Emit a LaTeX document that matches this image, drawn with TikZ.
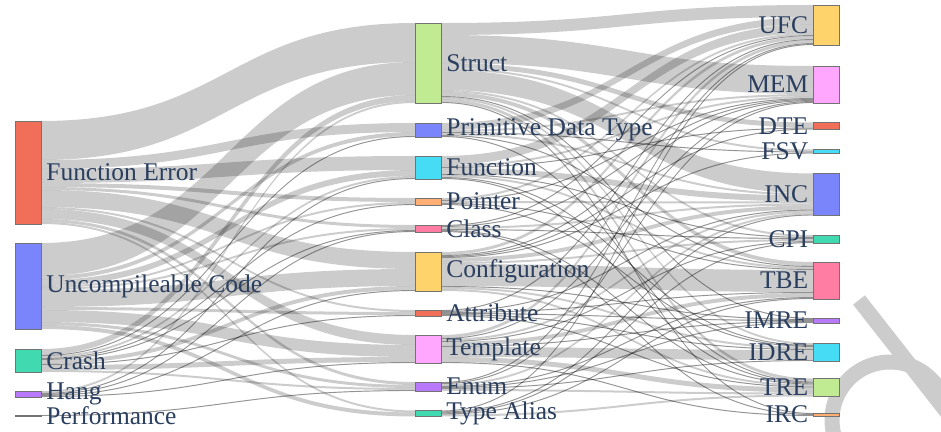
\documentclass[tikz,border=0pt]{standalone}
\usepackage{fontspec}
\setmainfont{Liberation Serif}
\usepackage{xcolor}
\usepackage{tikz}
\usetikzlibrary{positioning,calc,backgrounds}

\definecolor{cred}{HTML}{EF553B}
\definecolor{cblue}{HTML}{636EFA}
\definecolor{cgreen}{HTML}{00CC96}
\definecolor{cpurple}{HTML}{AB63FA}
\definecolor{corange}{HTML}{FFA15A}
\definecolor{ccyan}{HTML}{19D3F3}
\definecolor{cpink}{HTML}{FF6692}
\definecolor{clime}{HTML}{B6E880}
\definecolor{cmagenta}{HTML}{FF97FF}
\definecolor{cyellow}{HTML}{FECB52}
\definecolor{cbrown}{HTML}{8C564B}
\definecolor{lblc}{HTML}{2A3F5F}

\tikzset{
  sknode/.style={draw=black!55, line width=0.4pt, inner sep=0pt, outer sep=0pt,
                 minimum width=0.52cm, minimum height=#1*0.02cm},
  lbl/.style={font=\fontsize{14.5}{17}\selectfont, text=lblc, inner sep=0pt},
  link/.style={fill=black, fill opacity=0.2},
  hairlink/.style={draw=black, draw opacity=0.28, line width=0.5pt},
}

% one band of the sankey, stacked at both ends
\newcommand\flow[3]{%
  \edef\srcoff{\csname so@#1\endcsname}%
  \edef\tgtoff{\csname ti@#2\endcsname}%
  \path ($(#1.north east)+(0,\srcoff)$) coordinate (p1);
  \path ($(#2.north west)+(0,\tgtoff)$) coordinate (p2);
  \path ($(p1)+(0,#3)$) coordinate (q1);
  \path ($(p2)+(0,#3)$) coordinate (q2);
  \path ($(p1)!.5!(p2)$) coordinate (m);
  \fill[link] (p1) .. controls (m |- p1) and (m |- p2) .. (p2) -- (q2)
              .. controls (m |- q2) and (m |- q1) .. (q1) -- cycle;
  \ifnum#3<2
    \path ($(p1)!.5!(q1)$) coordinate (c1);
    \path ($(p2)!.5!(q2)$) coordinate (c2);
    \draw[hairlink] (c1) .. controls (m |- c1) and (m |- c2) .. (c2);
  \fi
  \pgfmathsetmacro\newoff{\srcoff+#3}%
  \expandafter\xdef\csname so@#1\endcsname{\newoff}%
  \pgfmathsetmacro\newoff{\tgtoff+#3}%
  \expandafter\xdef\csname ti@#2\endcsname{\newoff}%
}

\begin{document}
\begin{tikzpicture}[x=0.02cm,y=-0.02cm]
\useasboundingbox (0,0) rectangle (941,432);

% failure kinds
\node[sknode=103, fill=cred!85!white]    (fe) at (28,172.5) {};
\node[sknode=86,  fill=cblue!85!white]   (uc) at (28,286) {};
\node[sknode=23,  fill=cgreen!75!white]  (cr) at (28,360.5) {};
\node[sknode=6,   fill=cpurple!85!white] (hg) at (28,394) {};
\node[sknode=1,   fill=cbrown]           (pf) at (28,415.5) {};

% constructs
\node[sknode=80, fill=clime!85!white]    (st)  at (428,63) {};
\node[sknode=14, fill=cblue!85!white]    (pdt) at (428,130) {};
\node[sknode=23, fill=ccyan!80!white]    (fn)  at (428,167.5) {};
\node[sknode=7,  fill=corange!85!white]  (ptr) at (428,201.5) {};
\node[sknode=7,  fill=cpink!85!white]    (cls) at (428,228.5) {};
\node[sknode=39, fill=cyellow!85!white]  (cfg) at (428,271.5) {};
\node[sknode=6,  fill=cred!85!white]     (att) at (428,313) {};
\node[sknode=28, fill=cmagenta!85!white] (tpl) at (428,349) {};
\node[sknode=9,  fill=cpurple!85!white]  (enm) at (428,386.5) {};
\node[sknode=6,  fill=cgreen!75!white]   (ta)  at (428,413.5) {};

% root causes
\node[sknode=40, fill=cyellow!85!white]  (ufc)  at (826.5,25) {};
\node[sknode=37, fill=cmagenta!85!white] (mem)  at (826.5,84.5) {};
\node[sknode=7,  fill=cred!85!white]     (dte)  at (826.5,126) {};
\node[sknode=4,  fill=ccyan!80!white]    (fsv)  at (826.5,151.5) {};
\node[sknode=42, fill=cblue!85!white]    (inc)  at (826.5,194.5) {};
\node[sknode=8,  fill=cgreen!75!white]   (cpi)  at (826.5,239) {};
\node[sknode=37, fill=cpink!85!white]    (tbe)  at (826.5,280.5) {};
\node[sknode=5,  fill=cpurple!85!white]  (imre) at (826.5,320.5) {};
\node[sknode=18, fill=ccyan!80!white]    (idre) at (826.5,352) {};
\node[sknode=18, fill=clime!85!white]    (tre)  at (826.5,387.5) {};
\node[sknode=3,  fill=corange!85!white]  (irc)  at (826.5,414.5) {};

\node[lbl, right=0.1cm of fe] (feL) {Function Error};
\node[lbl, right=0.1cm of uc] (ucL) {Uncompileable Code};
\node[lbl, right=0.1cm of cr] (crL) {Crash};
\node[lbl, right=0.1cm of hg] (hgL) {Hang};
\node[lbl, right=0.1cm of pf] (pfL) {Performance};

\node[lbl, right=0.1cm of st]  (stL)  {Struct};
\node[lbl, right=0.1cm of pdt] (pdtL) {Primitive Data Type};
\node[lbl, right=0.1cm of fn]  (fnL)  {Function};
\node[lbl, right=0.1cm of ptr] (ptrL) {Pointer};
\node[lbl, right=0.1cm of cls] (clsL) {Class};
\node[lbl, right=0.1cm of cfg] (cfgL) {Configuration};
\node[lbl, right=0.1cm of att] (attL) {Attribute};
\node[lbl, right=0.1cm of tpl] (tplL) {Template};
\node[lbl, right=0.1cm of enm] (enmL) {Enum};
\node[lbl, right=0.1cm of ta]  (taL)  {Type Alias};

\node[lbl, left=0.1cm of ufc]  (ufcL)  {UFC};
\node[lbl, left=0.1cm of mem]  (memL)  {MEM};
\node[lbl, left=0.1cm of dte]  (dteL)  {DTE};
\node[lbl, left=0.1cm of fsv]  (fsvL)  {FSV};
\node[lbl, left=0.1cm of inc]  (incL)  {INC};
\node[lbl, left=0.1cm of cpi]  (cpiL)  {CPI};
\node[lbl, left=0.1cm of tbe]  (tbeL)  {TBE};
\node[lbl, left=0.1cm of imre] (imreL) {IMRE};
\node[lbl, left=0.1cm of idre] (idreL) {IDRE};
\node[lbl, left=0.1cm of tre]  (treL)  {TRE};
\node[lbl, left=0.1cm of irc]  (ircL)  {IRC};

\begin{pgfonlayer}{background}
  \fill[white] (0,0) rectangle (941,432);
  \begin{scope}
    \clip (0,0) rectangle (941,432);
    \draw[black!20, line width=0.3cm] (859,300) -- (975,448);
    \draw[black!20, line width=0.3cm] plot[domain=25:205, samples=50]
      ({890+58*cos(\x)}, {420-58*sin(\x)});
  \end{scope}
  \foreach \n in {fe,uc,cr,hg,pf,st,pdt,fn,ptr,cls,cfg,att,tpl,enm,ta,
                  ufc,mem,dte,fsv,inc,cpi,tbe,imre,idre,tre,irc}
    {\expandafter\xdef\csname so@\n\endcsname{0}%
     \expandafter\xdef\csname ti@\n\endcsname{0}}
  \foreach \src/\tgt/\val in {
      fe/st/39, fe/pdt/9, fe/fn/14, fe/ptr/4, fe/cls/3, fe/cfg/17, fe/att/2, fe/tpl/10, fe/enm/3, fe/ta/2,
      uc/st/33, uc/pdt/4, uc/fn/6, uc/ptr/2, uc/cls/2, uc/cfg/17, uc/att/3, uc/tpl/12, uc/enm/3, uc/ta/4,
      cr/st/6, cr/pdt/1, cr/fn/2, cr/ptr/1, cr/cls/1, cr/cfg/4, cr/att/1, cr/tpl/5, cr/enm/2,
      hg/st/2, hg/fn/1, hg/cls/1, hg/cfg/1, hg/tpl/1,
      pf/enm/1,
      st/ufc/12, st/mem/28, st/dte/5, st/fsv/2, st/inc/20, st/cpi/2, st/tbe/4, st/imre/1, st/idre/2, st/tre/3, st/irc/1,
      pdt/ufc/7, pdt/mem/2, pdt/fsv/1, pdt/inc/2, pdt/tbe/1, pdt/tre/1,
      fn/ufc/9, fn/mem/2, fn/dte/1, fn/inc/6, fn/cpi/1, fn/tbe/2, fn/idre/1, fn/tre/1,
      ptr/ufc/2, ptr/mem/1, ptr/inc/2, ptr/tbe/1, ptr/idre/1,
      cls/ufc/1, cls/mem/1, cls/inc/2, cls/cpi/1, cls/tre/1, cls/irc/1,
      cfg/ufc/3, cfg/mem/1, cfg/dte/1, cfg/fsv/1, cfg/inc/4, cfg/cpi/2, cfg/tbe/22, cfg/imre/1, cfg/idre/2, cfg/tre/2,
      att/ufc/1, att/inc/1, att/tbe/1, att/imre/1, att/idre/1, att/tre/1,
      tpl/ufc/3, tpl/mem/1, tpl/inc/2, tpl/cpi/1, tpl/tbe/4, tpl/imre/1, tpl/idre/10, tpl/tre/5, tpl/irc/1,
      enm/ufc/1, enm/mem/1, enm/inc/2, enm/tbe/1, enm/imre/1, enm/idre/1, enm/tre/2,
      ta/ufc/1, ta/inc/1, ta/cpi/1, ta/tbe/1, ta/tre/2}
    {\flow{\src}{\tgt}{\val}}
\end{pgfonlayer}
\end{tikzpicture}
\end{document}
